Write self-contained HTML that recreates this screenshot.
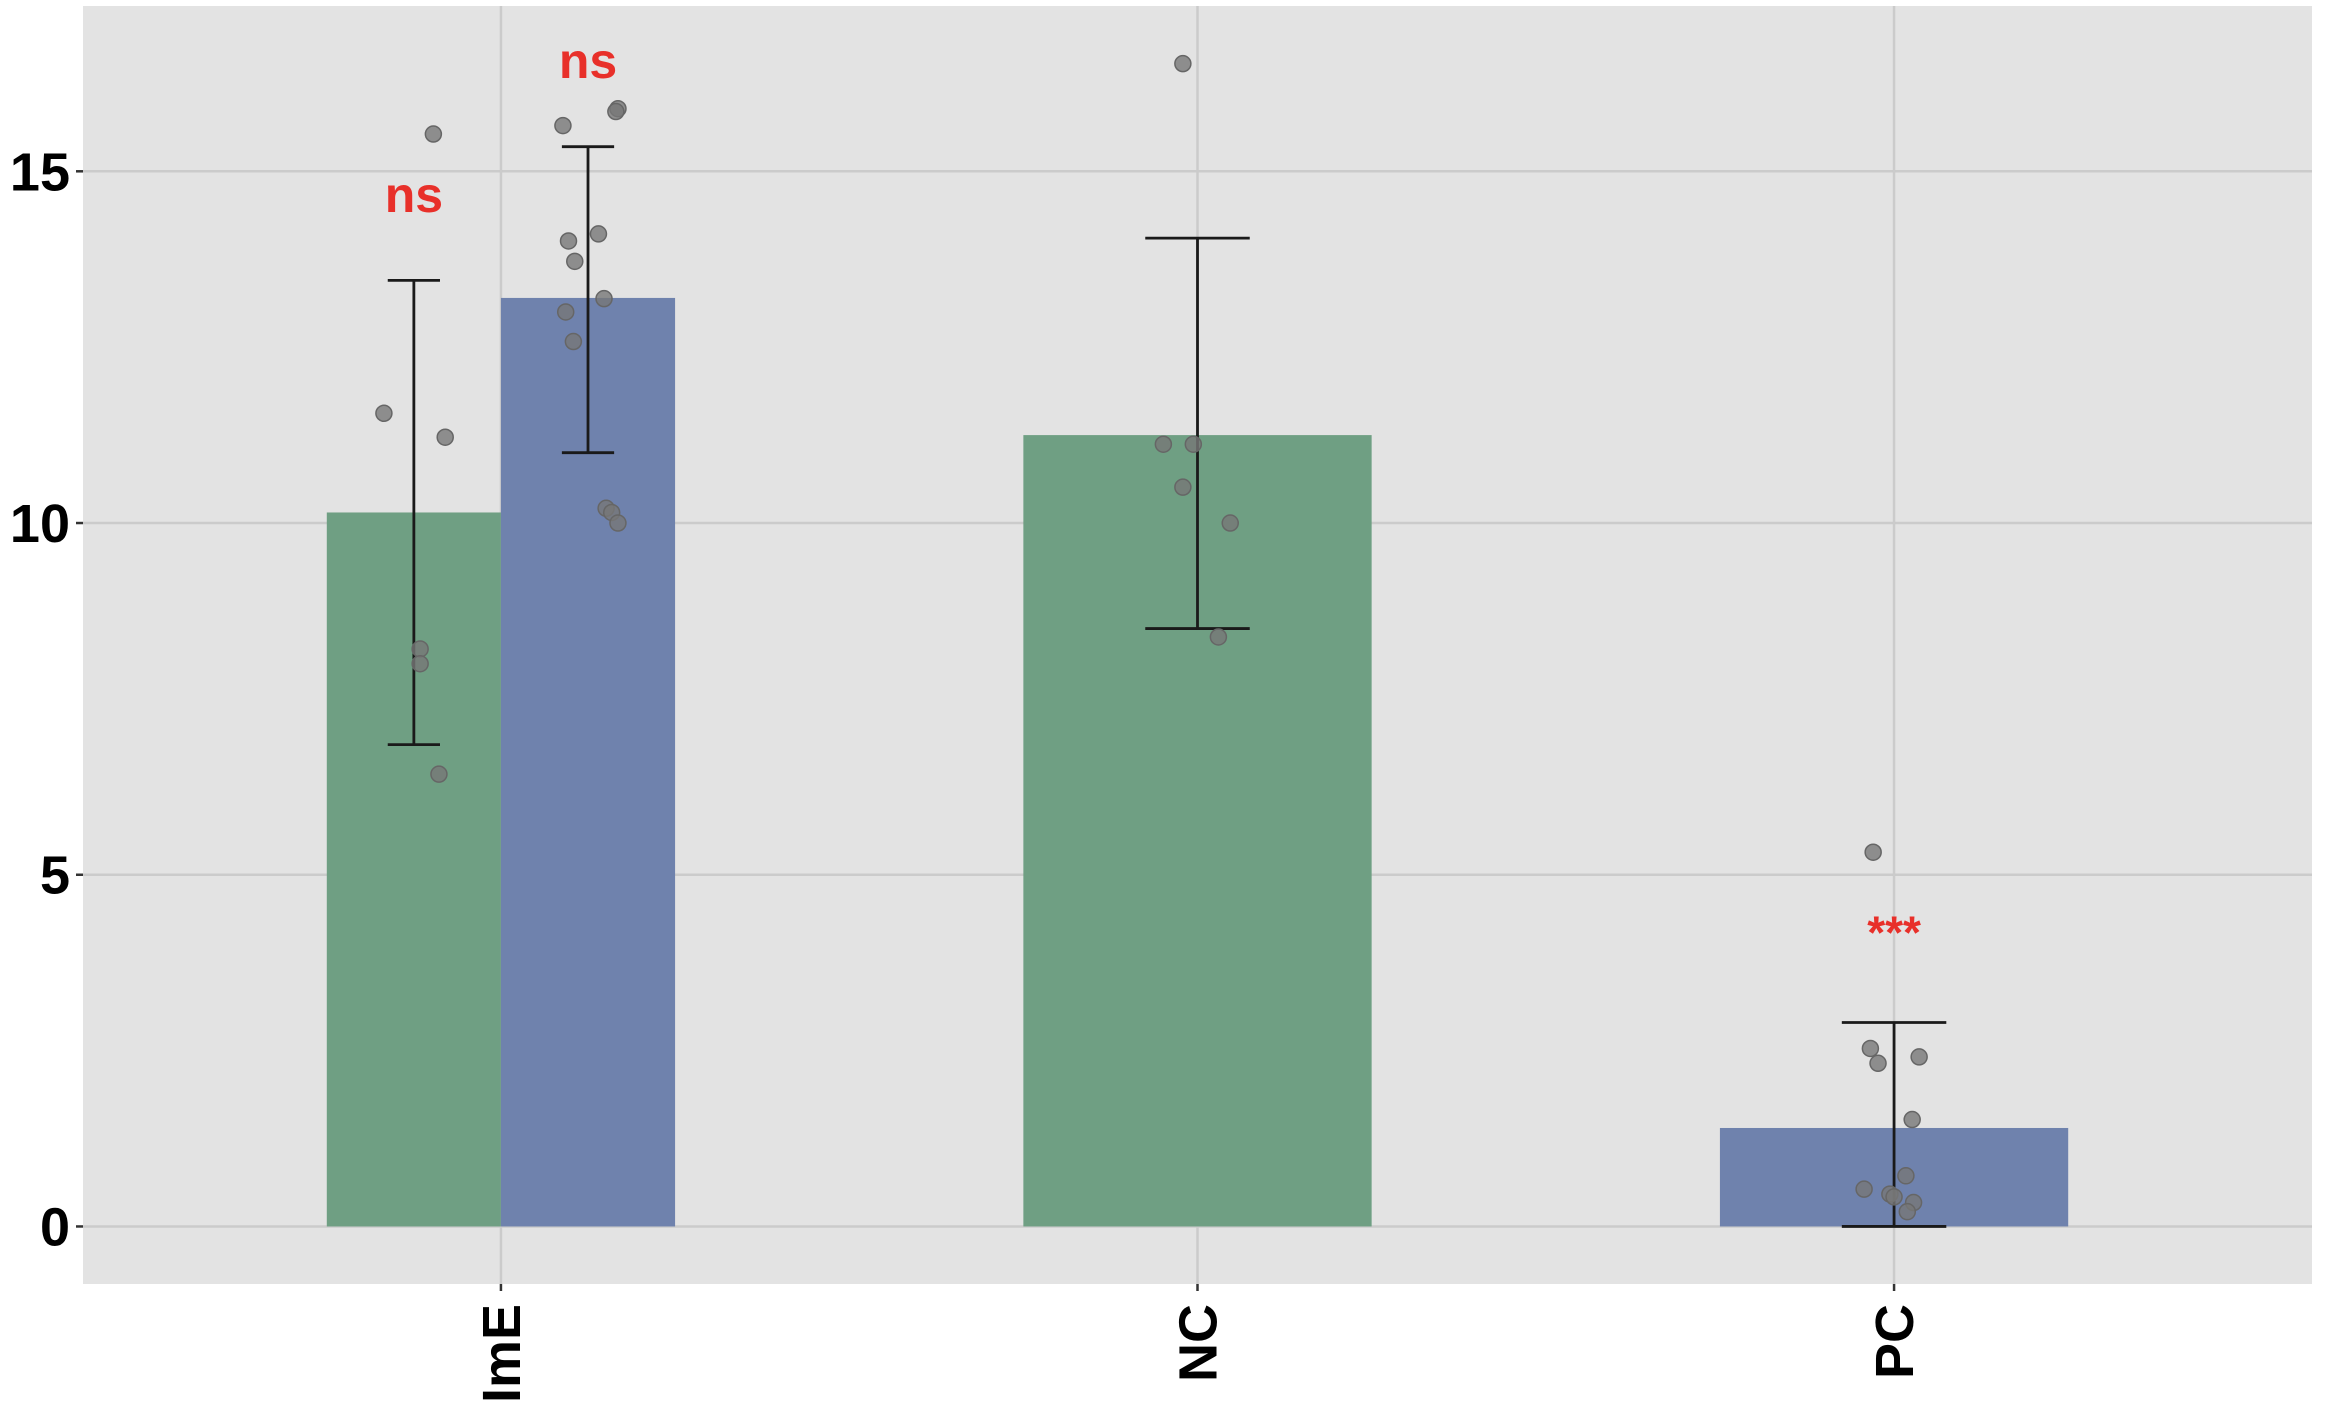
<!DOCTYPE html>
<html><head><meta charset="utf-8"><style>
html,body{margin:0;padding:0;background:#fff;}
svg{display:block;font-family:"Liberation Sans",Arial,sans-serif;}
</style></head><body>
<svg id="chart" width="2328" height="1412" viewBox="0 0 2328 1412" xmlns="http://www.w3.org/2000/svg">
<rect x="83" y="6" width="2229" height="1278" fill="#e3e3e3"/>
<g id="grid"></g><g id="bars"></g><g id="errs"></g><g id="pts"></g><g id="axes"></g><g id="sig"></g>
</svg>
<script>
const categories = ["ImE", "NC", "PC"];
const barCat = [0, 0, 1, 2];
const barGroup = ["green", "blue", "green", "blue"];
const barDodge = [-1, 1, 0, 0];
const barMean = [10.15, 13.2, 11.25, 1.4];
const errLow = [6.85, 11.0, 8.5, 0.0];
const errHigh = [13.45, 15.35, 14.05, 2.9];
const yTicks = [0, 5, 10, 15];
const sigLabels = ["ns", "ns", "***"];
const sigBar = [0, 1, 3];
const sigY = [14.42, 16.33, 3.95];
const ptBar = [0,0,0,0,0,0, 1,1,1,1,1,1,1,1,1,1,1,1, 2,2,2,2,2,2, 3,3,3,3,3,3,3,3,3,3,3];
const ptVal = [15.53,11.56,11.22,8.21,8.0,6.43, 15.65,15.89,15.85,14.01,14.11,13.72,13.19,13.0,12.58,10.21,10.15,10.0, 16.53,11.12,11.12,10.51,10.0,8.38, 5.32,2.53,2.32,2.41,1.52,0.72,0.53,0.46,0.42,0.34,0.21];
const ptJit = [0.028,-0.043,0.045,0.009,0.009,0.036, -0.036,0.043,0.040,-0.028,0.015,-0.019,0.023,-0.032,-0.021,0.026,0.034,0.043, -0.021,-0.049,-0.006,-0.021,0.047,0.030, -0.030,-0.034,-0.023,0.036,0.026,0.017,-0.043,-0.006,0.000,0.028,0.019];

const NS="http://www.w3.org/2000/svg";
const L=83,R=2312,T=6,B=1284;
const xMin=0.4,xMax=3.6,yMin=-0.818,yMax=17.35;
const xs=v=>L+(v-xMin)/(xMax-xMin)*(R-L);
const ys=v=>B-(v-yMin)/(yMax-yMin)*(B-T);
const colors={green:"#6f9f83",blue:"#6f82ad"};
const barW=0.5;
function mk(tag,attrs,parent){const e=document.createElementNS(NS,tag);for(const k in attrs)e.setAttribute(k,attrs[k]);document.getElementById(parent).appendChild(e);return e;}
function barCenter(i){const c=barCat[i]+1;return barDodge[i]===0?c:c+barDodge[i]*barW/4;}
function barWidth(i){return barDodge[i]===0?barW:barW/2;}

yTicks.forEach(t=>{
  const g=mk("line",{x1:L,x2:R,y1:ys(t),y2:ys(t),stroke:"#cbcbcb","stroke-width":2.5},"grid");
  
  
  const tk=mk("line",{x1:L-7,x2:L,y1:ys(t),y2:ys(t),stroke:"#333","stroke-width":2.5},"axes");
  
  
  const tx=mk("text",{x:L-13,y:ys(t)+19,"text-anchor":"end","font-size":54,"font-weight":"bold",fill:"#000"},"axes");
  tx.textContent=t;
  
  
});
categories.forEach((c,i)=>{
  const x=xs(i+1);
  const g=mk("line",{x1:x,x2:x,y1:T,y2:B,stroke:"#cbcbcb","stroke-width":2.5},"grid");
  
  
  const tk=mk("line",{x1:x,x2:x,y1:B,y2:B+7,stroke:"#333","stroke-width":2.5},"axes");
  
  
  const tx=mk("text",{x:0,y:0,"text-anchor":"end","font-size":54,"font-weight":"bold",fill:"#000",transform:`translate(${x+19},${B+20}) rotate(-90)`},"axes");
  tx.textContent=c;
  
  
});
barMean.forEach((m,i)=>{
  const cx=barCenter(i),w=barWidth(i);
  const x0=xs(cx-w/2),x1=xs(cx+w/2);
  const r=mk("rect",{x:x0,y:ys(m),width:x1-x0,height:ys(0)-ys(m),fill:colors[barGroup[i]]},"bars");
  
  
  const ew=w*0.3;
  const e=mk("path",{d:`M${xs(cx-ew/2)},${ys(errHigh[i])}H${xs(cx+ew/2)}M${xs(cx)},${ys(errHigh[i])}V${ys(errLow[i])}M${xs(cx-ew/2)},${ys(errLow[i])}H${xs(cx+ew/2)}`,stroke:"#1a1a1a","stroke-width":2.8,fill:"none"},"errs");
  
  
});
ptVal.forEach((v,i)=>{
  const b=ptBar[i];
  const c=mk("circle",{cx:xs(barCenter(b)+ptJit[i]),cy:ys(v),r:8,fill:"#777","fill-opacity":0.8,stroke:"#666","stroke-width":1.5},"pts");
  
  
});
sigLabels.forEach((s,i)=>{
  const t=mk("text",{x:xs(barCenter(sigBar[i])),y:ys(sigY[i]),"text-anchor":"middle","font-size":s==="***"?46:50,"font-weight":"bold",fill:"#e8302a"},"sig");
  t.textContent=s;
  
  
});
</script>
</body></html>
